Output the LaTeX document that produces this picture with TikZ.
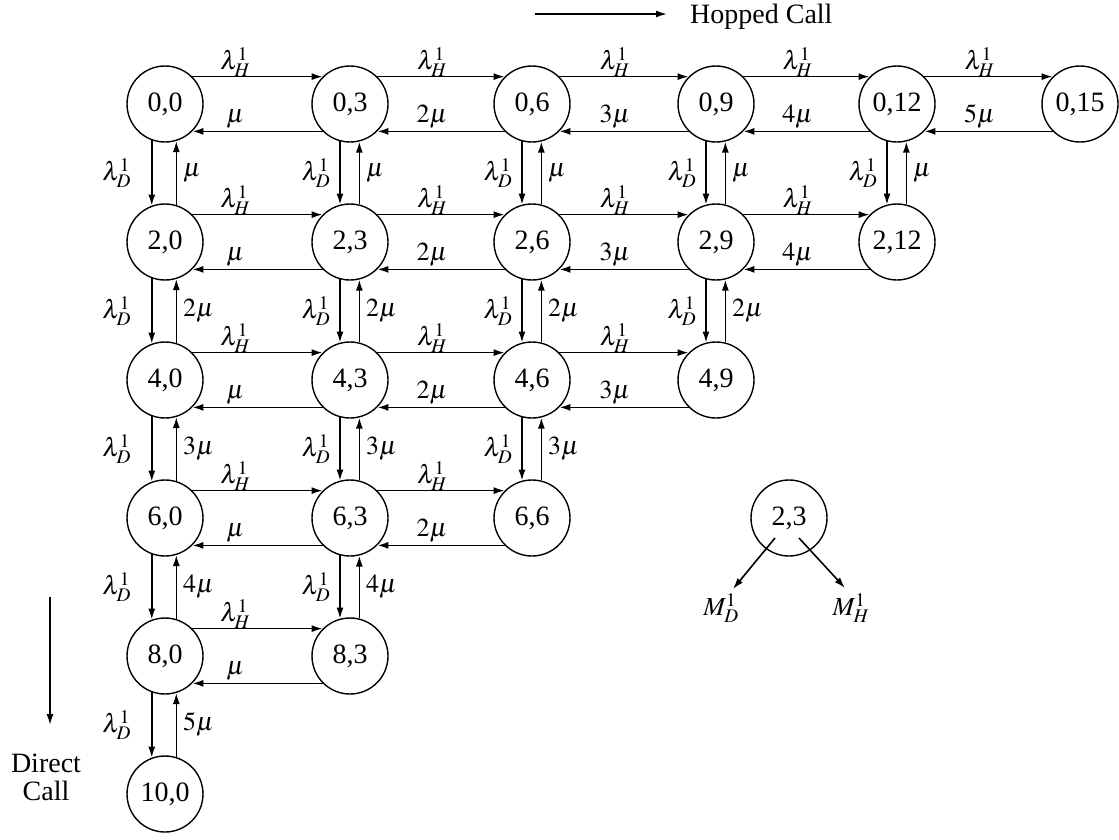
\documentclass[tikz,border=0pt]{standalone}
\usepackage{mathptmx}
\usepackage{fontspec}
\setmainfont{Liberation Serif}
\usetikzlibrary{arrows.meta}
% rate coefficient: 1 -> \mu, k -> k\mu
\newcommand\mycoef[1]{\ifnum#1=1 \mu\else #1\mu\fi}
\begin{document}
\begin{tikzpicture}[x=1pt,y=-1pt,
  state/.style={circle,draw,line width=1.4pt,minimum size=76pt,inner sep=0pt,
    font=\fontsize{28}{30}\selectfont},
  flow/.style={line width=1.6pt,-{Latex[length=11pt,width=7pt]}},
  lab/.style={font=\fontsize{26}{28}\selectfont,inner sep=2pt},
  legtext/.style={font=\fontsize{28}{30}\selectfont,inner sep=0pt}]
\useasboundingbox (0,0) rectangle (1119,839);

% states (2i, 3j) of the birth-death lattice
\foreach \i in {0,...,5}{
  \pgfmathtruncatemacro\jmax{5-\i}
  \foreach \j in {0,...,\jmax}{
    \pgfmathtruncatemacro\rr{2*\i}
    \pgfmathtruncatemacro\cc{3*\j}
    \pgfmathsetmacro\xx{{165,350,532,716,897,1080}[\j]}
    \node[state] (n\i\j) at (\xx,{104+138*\i}) {\rr,\cc};
  }
}

% hopped-call transitions (horizontal)
\foreach \i in {0,...,4}{
  \pgfmathtruncatemacro\jmax{4-\i}
  \foreach \j in {0,...,\jmax}{
    \pgfmathtruncatemacro\nxt{\j+1}
    \ifnum\j=0 \def\posA{0.33}\def\posB{0.67}\else\def\posA{0.43}\def\posB{0.57}\fi
    \draw[flow] (n\i\j.45) -- node[lab,above,pos=\posA,yshift=-3pt]{$\lambda^1_H$} (n\i\nxt.135);
    \draw[flow] (n\i\nxt.225) -- node[lab,above,pos=\posB]{$\mycoef{\nxt}$} (n\i\j.315);
  }
}

% direct-call transitions (vertical)
\foreach \j in {0,...,4}{
  \pgfmathtruncatemacro\imax{4-\j}
  \foreach \i in {0,...,\imax}{
    \pgfmathtruncatemacro\nxt{\i+1}
    \ifnum\j=0
      \def\da{250}\def\db{110}\def\ua{73}\def\ub{287}\def\lgap{20pt}
    \else
      \def\da{255}\def\db{105}\def\ua{76}\def\ub{284}\def\lgap{9pt}
    \fi
    \draw[flow] (n\i\j.\da) -- node[lab,left,inner sep=\lgap]{$\lambda^1_D$} (n\nxt\j.\db);
    \draw[flow] (n\nxt\j.\ua) -- node[lab,right,inner sep=6pt]{$\mycoef{\nxt}$} (n\i\j.\ub);
  }
}

% direction legends
\coordinate (hopA) at (535,14);
\coordinate (hopB) at (667,14);
\draw[flow] (hopA) -- (hopB);
\node[legtext,anchor=west] (hop) at (690,17) {Hopped Call};

\coordinate (dirA) at (50,597);
\coordinate (dirB) at (50,725);
\draw[flow] (dirA) -- (dirB);
\node[legtext,align=center] (dir) at (46,777) {Direct\\[-2pt]Call};

% key: outgoing rates of a state
\node[state] (key) at (789,518) {2,3};
\coordinate (keyD) at (775,538);
\coordinate (keyH) at (799,538);
\node[lab,inner sep=0pt] (mD) at (721,608) {$M^1_D$};
\node[lab,inner sep=0pt] (mH) at (851,608) {$M^1_H$};
\coordinate (mDtip) at (733,589);
\coordinate (mHtip) at (845,588);
\draw[flow] (keyD) -- (mDtip);
\draw[flow] (keyH) -- (mHtip);
\end{tikzpicture}
\end{document}
